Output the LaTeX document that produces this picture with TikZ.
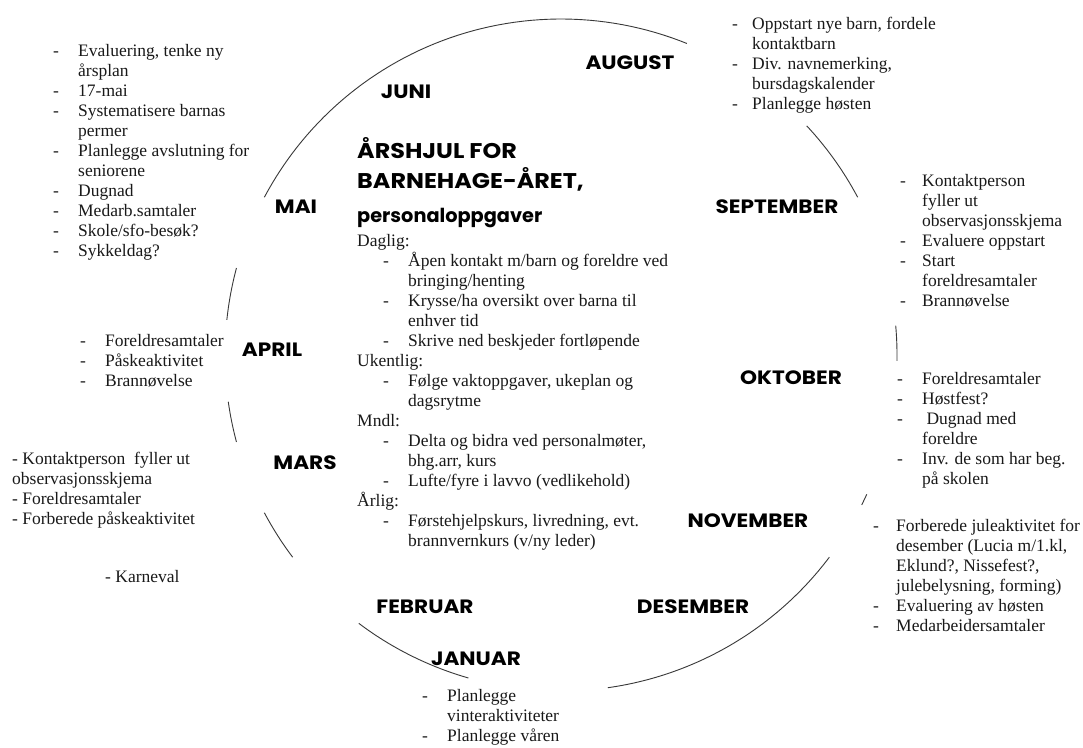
\documentclass[tikz,border=0pt]{standalone}
\usepackage{fontspec}
\setmainfont{Liberation Serif}
\newfontfamily\monthfont{Poppins}[FakeStretch=1.12]
\newfontfamily\titlelower{Poppins}
\usepackage{array}
\begin{document}
\begin{tikzpicture}[x=1pt,y=-1pt,
  wheel/.style={line width=0.9pt, draw=black!78},
  month/.style={font=\monthfont\bfseries\fontsize{19.3}{22}\selectfont, inner sep=0pt, outer sep=0pt},
  titletext/.style={font=\monthfont\bfseries\fontsize{21.3}{24}\selectfont, inner sep=0pt, anchor=base west},
  titlesub/.style={font=\titlelower\bfseries\fontsize{19.3}{24}\selectfont, inner sep=0pt, anchor=base west},
  notes/.style={font=\fontsize{17.5}{20}\selectfont, inner sep=0pt, anchor=base west, text=black!90}]
\useasboundingbox[fill=white] (0,0) rectangle (1083,747);
\coordinate (hub) at (561,355);
% wheel segments
\foreach \a/\b in {68/152, 28/43, -1/5, -24.5/-26.5, -82/-37, 233/254, 208/217, 188/195, 165/174}
  \draw[wheel] plot[domain=\a:\b, samples=60] ({561+336*cos(\x)}, {355-336*sin(\x)});
% months
\node[month] (aug) at (630,63) {AUGUST};
\node[month] (jun) at (406,92) {JUNI};
\node[month] (mai) at (296,207) {MAI};
\node[month] (sep) at (777,207) {SEPTEMBER};
\node[month] (apr) at (272,350) {APRIL};
\node[month] (okt) at (791,378) {OKTOBER};
\node[month] (mar) at (305,463) {MARS};
\node[month] (nov) at (748,521) {NOVEMBER};
\node[month] (feb) at (425,607) {FEBRUAR};
\node[month] (des) at (693,607) {DESEMBER};
\node[month] (jan) at (476,659) {JANUAR};
% title
\node[titletext] (t1) at (357,158) {ÅRSHJUL FOR};
\node[titletext] (t2) at (357,188) {BARNEHAGE-ÅRET,};
\node[titlesub] (t3) at (357,222) {personaloppgaver};
% centre block
\node[notes] (centre) at (357,246) {\begin{tabular}[t]{@{}p{26pt}@{}p{25pt}@{}l@{}}
\multicolumn{3}{@{}l@{}}{Daglig:}\\
 & - & Åpen kontakt m/barn og foreldre ved\\
 & & bringing/henting\\
 & - & Krysse/ha oversikt over barna til\\
 & & enhver tid\\
 & - & Skrive ned beskjeder fortløpende\\
\multicolumn{3}{@{}l@{}}{Ukentlig:}\\
 & - & Følge vaktoppgaver, ukeplan og\\
 & & dagsrytme\\
\multicolumn{3}{@{}l@{}}{Mndl:}\\
 & - & Delta og bidra ved personalmøter,\\
 & & bhg.arr, kurs\\
 & - & Lufte/fyre i lavvo (vedlikehold)\\
\multicolumn{3}{@{}l@{}}{Årlig:}\\
 & - & Førstehjelpskurs, livredning, evt.\\
 & & brannvernkurs (v/ny leder)
\end{tabular}};
% May
\node[notes] (mai-notes) at (53,56) {\begin{tabular}[t]{@{}p{25pt}@{}l@{}}
- & Evaluering, tenke ny\\
  & årsplan\\
- & 17-mai\\
- & Systematisere barnas\\
  & permer\\
- & Planlegge avslutning for\\
  & seniorene\\
- & Dugnad\\
- & Medarb.samtaler\\
- & Skole/sfo-besøk?\\
- & Sykkeldag?
\end{tabular}};
% August
\node[notes] (aug-notes) at (732,29) {\begin{tabular}[t]{@{}p{20pt}@{}l@{}}
- & Oppstart nye barn, fordele\\
  & kontaktbarn\\
- & Div. navnemerking,\\
  & bursdagskalender\\
- & Planlegge høsten
\end{tabular}};
% September
\node[notes] (sep-notes) at (900,186) {\begin{tabular}[t]{@{}p{22pt}@{}l@{}}
- & Kontaktperson\\
  & fyller ut\\
  & observasjonsskjema\\
- & Evaluere oppstart\\
- & Start\\
  & foreldresamtaler\\
- & Brannøvelse
\end{tabular}};
% October
\node[notes] (okt-notes) at (897,384) {\begin{tabular}[t]{@{}p{25pt}@{}l@{}}
- & Foreldresamtaler\\
- & Høstfest?\\
- & \ Dugnad med\\
  & foreldre\\
- & Inv. de som har beg.\\
  & på skolen
\end{tabular}};
% November
\node[notes] (nov-notes) at (873,531) {\begin{tabular}[t]{@{}p{23pt}@{}l@{}}
- & Forberede juleaktivitet for\\
  & desember (Lucia m/1.kl,\\
  & Eklund?, Nissefest?,\\
  & julebelysning, forming)\\
- & Evaluering av høsten\\
- & Medarbeidersamtaler
\end{tabular}};
% April
\node[notes] (apr-notes) at (80,346) {\begin{tabular}[t]{@{}p{25pt}@{}l@{}}
- & Foreldresamtaler\\
- & Påskeaktivitet\\
- & Brannøvelse
\end{tabular}};
% March
\node[notes] (mar-notes) at (12,464) {\begin{tabular}[t]{@{}l@{}}
- Kontaktperson\ \ fyller ut\\
observasjonsskjema\\
- Foreldresamtaler\\
- Forberede påskeaktivitet
\end{tabular}};
\node[notes] (karneval) at (105,582) {- Karneval};
% January
\node[notes] (jan-notes) at (422,701) {\begin{tabular}[t]{@{}p{25pt}@{}l@{}}
- & Planlegge\\
  & vinteraktiviteter\\
- & Planlegge våren
\end{tabular}};
\end{tikzpicture}
\end{document}
